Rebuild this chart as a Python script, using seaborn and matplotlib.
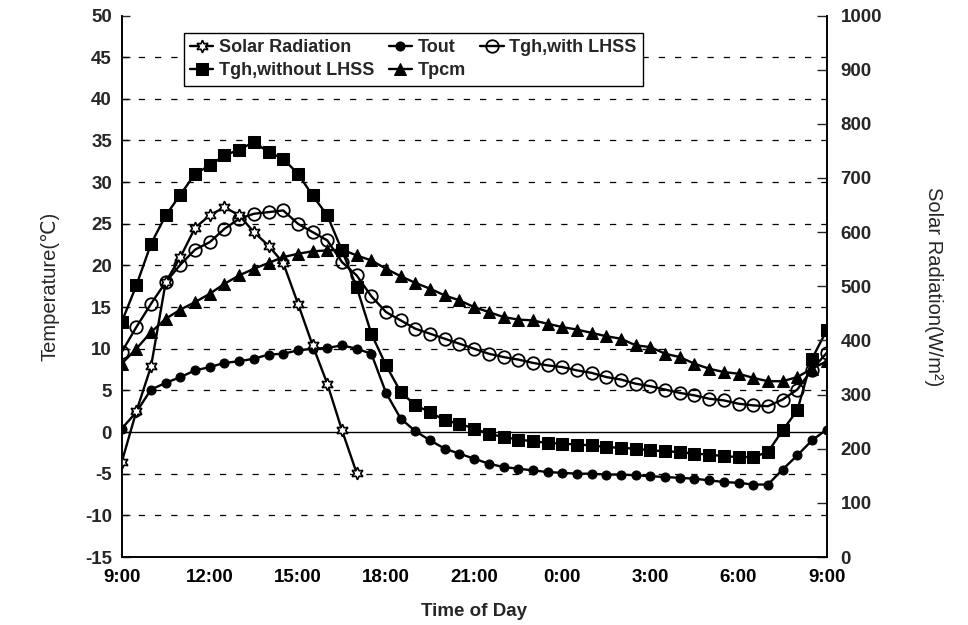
import numpy as np
import matplotlib
matplotlib.use("Agg")
import matplotlib.pyplot as plt
import seaborn as sns
from matplotlib.ticker import MultipleLocator, FixedLocator

sns.set_style("white")
plt.rcParams['font.family'] = ['Liberation Sans', 'DejaVu Sans']
plt.rcParams['axes.unicode_minus'] = False

# Time axis: hours elapsed since 9:00, half-hourly readings over one day
tick_labels = ["9:00", "12:00", "15:00", "18:00", "21:00", "0:00", "3:00", "6:00", "9:00"]
half_hours = np.arange(49) * 0.5
solar_hours = half_hours[:17]

# Solar radiation (W/m2), 9:00-17:00
solar = [175, 269, 352, 508, 554, 608, 631, 646, 631, 600, 575, 543,
         468, 391, 320, 234, 155]

# Outside air temperature (degC)
tout = [0.4, 2.4, 5.1, 5.9, 6.6, 7.4, 7.8, 8.3, 8.5, 8.8,
        9.3, 9.4, 9.8, 10.0, 10.1, 10.4, 10.0, 9.4, 4.7, 1.6,
        0.1, -1.0, -2.0, -2.6, -3.2, -3.8, -4.2, -4.4, -4.6, -4.8,
        -4.9, -5.0, -5.0, -5.1, -5.1, -5.2, -5.3, -5.4, -5.5, -5.6,
        -5.8, -6.0, -6.1, -6.3, -6.3, -4.5, -2.8, -1.0, 0.3]

# Greenhouse air temperature with the latent heat storage system
tgh_with = [9.6, 12.6, 15.4, 18.0, 20.1, 21.9, 22.8, 24.4, 25.6, 26.2,
            26.4, 26.6, 25.0, 24.0, 23.0, 20.4, 18.8, 16.3, 14.4, 13.4,
            12.4, 11.8, 11.2, 10.6, 10.0, 9.4, 9.0, 8.7, 8.3, 8.0,
            7.8, 7.4, 7.1, 6.6, 6.3, 5.8, 5.5, 5.1, 4.7, 4.4,
            4.0, 3.8, 3.4, 3.2, 3.1, 3.9, 5.1, 7.5, 9.5]

# Greenhouse air temperature without the latent heat storage system
tgh_without = [13.2, 17.6, 22.6, 26.0, 28.5, 31.0, 32.0, 33.2, 33.9, 34.8,
               33.6, 32.8, 31.0, 28.4, 26.0, 21.8, 17.4, 11.8, 8.0, 4.8,
               3.2, 2.4, 1.4, 1.0, 0.4, -0.2, -0.6, -0.9, -1.1, -1.3,
               -1.4, -1.5, -1.6, -1.8, -1.9, -2.0, -2.2, -2.3, -2.4, -2.6,
               -2.7, -2.9, -3.0, -3.0, -2.4, 0.2, 2.6, 8.8, 12.2]

# Phase change material temperature
tpcm = [8.2, 10.0, 12.0, 13.6, 14.7, 15.6, 16.6, 17.8, 18.8, 19.6,
        20.3, 21.0, 21.4, 21.7, 21.8, 21.9, 21.2, 20.6, 19.6, 18.7,
        17.9, 17.2, 16.4, 15.8, 15.0, 14.4, 13.8, 13.5, 13.4, 13.0,
        12.6, 12.3, 11.9, 11.5, 11.2, 10.4, 10.2, 9.4, 9.0, 8.2,
        7.6, 7.2, 7.0, 6.5, 6.1, 6.1, 6.6, 7.6, 8.5]

fig = plt.figure(figsize=(9.68, 6.25), dpi=100)
ax = fig.add_axes([0.1257, 0.1088, 0.7283, 0.8664])
ax2 = ax.twinx()

lw = 1.7
common = dict(color="black", linewidth=lw, markeredgecolor="black")

sns.lineplot(x=half_hours, y=tgh_without, ax=ax, marker="s", markersize=8,
             label="Tgh,without LHSS", **common)
sns.lineplot(x=half_hours, y=tpcm, ax=ax, marker="^", markersize=8.5,
             label="Tpcm", **common)
sns.lineplot(x=half_hours, y=tgh_with, ax=ax, marker="o", markersize=9,
             markerfacecolor="none", markeredgewidth=1.3,
             label="Tgh,with LHSS", **common)
sns.lineplot(x=half_hours, y=tout, ax=ax, marker="o", markersize=6.5,
             label="Tout", **common)
sns.lineplot(x=solar_hours, y=solar, ax=ax2, marker=(6, 1, 0), markersize=9,
             markerfacecolor="white", markeredgewidth=1.2,
             label="Solar Radiation", **common)

# Temperature axis
ax.set_xlim(0, 24)
ax.set_ylim(-15, 50)
ax.yaxis.set_major_locator(MultipleLocator(5))
ax.xaxis.set_major_locator(FixedLocator(np.arange(0, 25, 3)))
ax.xaxis.set_minor_locator(MultipleLocator(0.5))
ax.set_xticklabels(tick_labels)
for y in range(-10, 50, 5):
    if y == 0:
        ax.axhline(0, color="black", linewidth=1.0, zorder=1)
    else:
        ax.axhline(y, color="black", linewidth=0.9, linestyle=(0, (5, 8)), zorder=1)

# Solar radiation axis
ax2.set_ylim(0, 1000)
ax2.yaxis.set_major_locator(MultipleLocator(100))

for a in (ax, ax2):
    for lab in a.get_xticklabels() + a.get_yticklabels():
        lab.set_fontsize(13.5)
        lab.set_fontweight("bold")
    for s in a.spines.values():
        s.set_color("black")
        s.set_linewidth(1.2)
    a.spines["top"].set_visible(False)

ax.tick_params(axis="x", which="major", direction="in", length=7, width=1, pad=9, colors="black")
ax.tick_params(axis="x", which="minor", direction="in", length=3, width=0.8)
ax.tick_params(axis="y", which="major", direction="in", length=6, width=1, pad=7)
ax2.tick_params(axis="y", which="major", direction="in", length=7, width=1, pad=10)

ax.set_xlabel("Time of Day", fontsize=13.5, fontweight="bold", labelpad=12)
ax.set_ylabel("Temperature(℃)", fontsize=14.5, labelpad=18)
ax2.set_ylabel("Solar Radiation(W/m²)", fontsize=14.5, rotation=-90, labelpad=44)

# Legend laid out row by row in three columns
h1, l1 = ax.get_legend_handles_labels()
h2, l2 = ax2.get_legend_handles_labels()
handles = dict(zip(l1 + l2, h1 + h2))
order = ["Solar Radiation", "Tgh,without LHSS", "Tout", "Tpcm", "Tgh,with LHSS"]
ax.get_legend().remove()
ax2.get_legend().remove()
leg = ax2.legend([handles[k] for k in order], order, ncol=3, loc="upper left",
                 bbox_to_anchor=(0.075, 0.985), frameon=True, fancybox=False,
                 edgecolor="black", framealpha=1, handlelength=1.3,
                 handletextpad=0.3, columnspacing=0.8, borderpad=0.35,
                 labelspacing=0.35, prop=dict(size=13, weight="bold"))
leg.get_frame().set_linewidth(1.0)

fig.savefig("out.png", dpi=100)
